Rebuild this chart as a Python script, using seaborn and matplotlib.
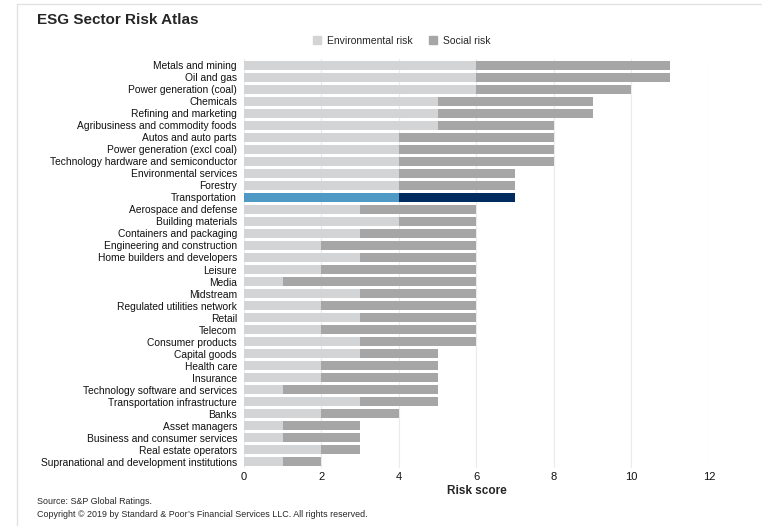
import pandas as pd
import matplotlib.pyplot as plt
import seaborn as sns
from matplotlib.patches import Patch
from matplotlib.lines import Line2D

# Sector risk scores
sectors = [
    'Metals and mining', 'Oil and gas', 'Power generation (coal)', 'Chemicals',
    'Refining and marketing', 'Agribusiness and commodity foods', 'Autos and auto parts',
    'Power generation (excl coal)', 'Technology hardware and semiconductor',
    'Environmental services', 'Forestry', 'Transportation', 'Aerospace and defense',
    'Building materials', 'Containers and packaging', 'Engineering and construction',
    'Home builders and developers', 'Leisure', 'Media', 'Midstream',
    'Regulated utilities network', 'Retail', 'Telecom', 'Consumer products',
    'Capital goods', 'Health care', 'Insurance', 'Technology software and services',
    'Transportation infrastructure', 'Banks', 'Asset managers',
    'Business and consumer services', 'Real estate operators',
    'Supranational and development institutions',
]
environmental = [6, 6, 6, 5, 5, 5, 4, 4, 4, 4, 4, 4, 3, 4, 3, 2, 3, 2, 1, 3,
                 2, 3, 2, 3, 3, 2, 2, 1, 3, 2, 1, 1, 2, 1]
social = [5, 5, 4, 4, 4, 3, 4, 4, 4, 3, 3, 3, 3, 2, 3, 4, 3, 4, 5, 3,
          4, 3, 4, 3, 2, 3, 3, 4, 2, 2, 2, 2, 1, 1]
highlight = 'Transportation'

df = pd.DataFrame({'Sector': sectors, 'Environmental': environmental, 'Social': social})
df['Total'] = df['Environmental'] + df['Social']

env_color, soc_color = '#d3d4d5', '#a6a6a6'
env_hi, soc_hi = '#4e9ac4', '#002c5f'
soc_pal = {s: (soc_hi if s == highlight else soc_color) for s in sectors}
env_pal = {s: (env_hi if s == highlight else env_color) for s in sectors}

sns.set_style('white')
plt.rcParams['font.family'] = ['Liberation Sans', 'DejaVu Sans']

fig = plt.figure(figsize=(7.62, 5.26), dpi=100)
ax = fig.add_axes([0.3202, 0.1103, 0.6102, 0.7775])

# stacked bars: total (social on top) first, environmental drawn over it
sns.barplot(ax=ax, data=df, y='Sector', x='Total', hue='Sector', palette=soc_pal,
            legend=False, width=0.75, saturation=1, linewidth=0, zorder=2)
sns.barplot(ax=ax, data=df, y='Sector', x='Environmental', hue='Sector', palette=env_pal,
            legend=False, width=0.75, saturation=1, linewidth=0, zorder=3)

ax.set_xlim(0, 12)
ax.set_ylim(len(sectors) - 0.5, -0.5)
ax.set_xticks(range(0, 13, 2))
ax.grid(axis='x', color='#ebebeb', linewidth=0.8, zorder=0)
ax.set_axisbelow(True)
for sp in ax.spines.values():
    sp.set_visible(False)
ax.tick_params(axis='both', length=0, labelsize=7.4, colors='#111111')
ax.tick_params(axis='x', labelsize=8)
ax.tick_params(axis='y', pad=5)
ax.tick_params(axis='x', pad=3)
ax.set_ylabel('')
ax.set_xlabel('Risk score', fontsize=8.5, fontweight='bold', labelpad=2)

handles = [Patch(color=env_color, label='Environmental risk'),
           Patch(color=soc_color, label='Social risk')]
fig.legend(handles=handles, loc='center', bbox_to_anchor=(0.527, 0.922), ncol=2,
           frameon=False, fontsize=7.5, handlelength=0.8, handleheight=0.8,
           handletextpad=0.5, columnspacing=1.6)

fig.text(0.049, 0.962, 'ESG Sector Risk Atlas', fontsize=11, fontweight='bold', va='center')
fig.text(0.049, 0.046, 'Source: S&P Global Ratings.', fontsize=6.4, va='center')
fig.text(0.049, 0.021, 'Copyright \u00a9 2019 by Standard & Poor\u2019s Financial Services LLC. All rights reserved.',
         fontsize=6.4, va='center')

# panel frame lines (top and left)
fig.add_artist(Line2D([0.022, 1], [0.992, 0.992], color='#e2e2e2', linewidth=1))
fig.add_artist(Line2D([0.022, 0.022], [0.0, 0.992], color='#e2e2e2', linewidth=1))

fig.savefig('out.png', dpi=100)
